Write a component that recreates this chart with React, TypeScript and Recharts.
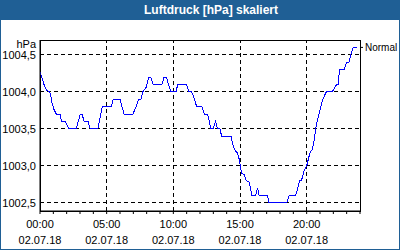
import React from "react";
import {
  LineChart,
  Line,
  XAxis,
  YAxis,
  ReferenceLine,
  ReferenceArea,
  Label,
} from "recharts";

const title = "Luftdruck [hPa] skaliert";
const unit = "hPa";
const seriesName = "Normal";
const dateLabel = "02.07.18";

// time in hours since 00:00, pressure in hPa
const hours = [
  0.0, 0.2, 0.35, 0.5, 0.7, 0.8, 0.9, 1.05, 1.22, 1.52, 1.6, 1.9, 2.17, 2.72,
  3.02, 3.14, 3.32, 3.6, 3.77, 4.34, 4.67, 5.36, 5.49, 6.0, 6.3, 6.97, 7.21,
  7.39, 7.58, 7.71, 7.96, 8.16, 8.31, 8.48, 9.15, 9.3, 9.48, 9.63, 9.83, 10.2,
  10.33, 11.0, 11.15, 11.38, 11.58, 11.75, 12.15, 12.32, 12.57, 12.7, 12.82,
  12.97, 13.17, 13.32, 13.5, 13.62, 14.32, 14.52, 14.65, 14.82, 14.97, 15.02,
  15.12, 15.32, 15.47, 15.7, 15.89, 16.17, 16.32, 16.44, 17.07, 17.16, 18.51,
  18.69, 19.18, 19.36, 19.46, 19.61, 19.81, 20.0, 20.18, 20.31, 20.43, 20.56,
  20.68, 20.81, 20.96, 21.13, 21.31, 21.48, 21.93, 22.1, 22.25, 22.36, 22.46,
  22.8, 22.99, 23.18, 23.3, 23.5, 23.8,
];
const pressure = [
  1004.27, 1004.16, 1004.07, 1004.02, 1004.0, 1003.96, 1003.85, 1003.76, 1003.7,
  1003.7, 1003.6, 1003.6, 1003.5, 1003.5, 1003.7, 1003.7, 1003.6, 1003.6,
  1003.5, 1003.5, 1003.8, 1003.8, 1003.9, 1003.9, 1003.7, 1003.7, 1003.8,
  1003.9, 1003.9, 1004.0, 1004.06, 1004.2, 1004.2, 1004.1, 1004.1, 1004.2,
  1004.2, 1004.1, 1004.0, 1004.0, 1004.1, 1004.1, 1004.0, 1004.0, 1003.9,
  1003.8, 1003.8, 1003.7, 1003.7, 1003.6, 1003.5, 1003.5, 1003.6, 1003.5,
  1003.5, 1003.4, 1003.4, 1003.25, 1003.2, 1003.17, 1003.07, 1003.0, 1002.9,
  1002.88, 1002.8, 1002.78, 1002.6, 1002.6, 1002.7, 1002.6, 1002.6, 1002.5,
  1002.5, 1002.6, 1002.6, 1002.72, 1002.8, 1002.8, 1002.94, 1003.0, 1003.13,
  1003.2, 1003.22, 1003.35, 1003.5, 1003.62, 1003.73, 1003.85, 1003.94, 1004.0,
  1004.0, 1004.06, 1004.1, 1004.1, 1004.3, 1004.3, 1004.4, 1004.4, 1004.5,
  1004.6, 1004.6,
];

const yTicks = [1002.5, 1003.0, 1003.5, 1004.0, 1004.5];
const xLabelTicks = [0, 5, 10, 15, 20];
const xHourTicks = [
  0, 1, 2, 3, 4, 5, 6, 7, 8, 9, 10, 11, 12, 13, 14, 15, 16, 17, 18, 19, 20, 21,
  22, 23, 24,
];
const xDomain = [0, 24];
const yDomain = [1002.39, 1004.7];

const data = hours.map((h, i) => ({ h, p: pressure[i] }));
const lastValue = pressure[pressure.length - 1];

const BLUE = "#1f5f95";
const FONT = "'Liberation Sans', Arial, sans-serif";

function HourTick(props: any) {
  const { x, y, payload } = props;
  if (!xLabelTicks.includes(payload.value)) return <g />;
  const hh = String(payload.value).padStart(2, "0") + ":00";
  return (
    <text x={x} y={y} textAnchor="middle" fill="#000" fontSize={11} fontFamily={FONT}>
      <tspan x={x} dy={12}>{hh}</tspan>
      <tspan x={x} dy={16}>{dateLabel}</tspan>
    </text>
  );
}

export default function App() {
  return (
    <div
      style={{
        position: "relative",
        width: 400,
        height: 250,
        boxSizing: "border-box",
        border: `1px solid ${BLUE}`,
        background: "#fff",
        fontFamily: FONT,
        overflow: "hidden",
      }}
    >
      <style>{"body{margin:0}"}</style>
      <div
        style={{
          position: "absolute",
          left: 0,
          top: 0,
          width: 398,
          height: 19,
          paddingLeft: 22,
          boxSizing: "border-box",
          background: BLUE,
          color: "#fff",
          fontWeight: "bold",
          fontSize: 12,
          lineHeight: "19px",
          textAlign: "center",
        }}
      >
        {title}
      </div>
      <div style={{ position: "absolute", left: -1, top: -1 }}>
        <LineChart
          width={400}
          height={250}
          data={data}
          margin={{ top: 40, right: 0, bottom: 0, left: 0 }}
        >
          <XAxis
            dataKey="h"
            type="number"
            domain={xDomain}
            ticks={xHourTicks}
            interval={0}
            height={39}
            tickSize={3}
            tickMargin={2}
            axisLine={{ stroke: "#000" }}
            tickLine={{ stroke: "#000" }}
            tick={<HourTick />}
            allowDataOverflow
          />
          <YAxis
            yAxisId="l"
            type="number"
            domain={yDomain}
            ticks={yTicks}
            interval={0}
            width={40}
            tickSize={2}
            tickMargin={2}
            tickLine={false}
            axisLine={{ stroke: "#000" }}
            tick={{ fill: "#000", fontSize: 11, fontFamily: FONT }}
            tickFormatter={(v: number) => v.toFixed(1).replace(".", ",")}
            allowDataOverflow
          >
            <Label
              value={unit}
              position="insideTopRight"
              offset={4}
              dy={-4}
              fill="#000"
              fontSize={11}
              fontFamily={FONT}
            />
          </YAxis>
          <YAxis
            yAxisId="r"
            orientation="right"
            type="number"
            domain={yDomain}
            ticks={[lastValue]}
            interval={0}
            width={40}
            tickSize={3}
            tickMargin={2}
            axisLine={false}
            tickLine={{ stroke: "#000" }}
            tick={{ fill: "#000", fontSize: 10, fontFamily: FONT, textAnchor: "start" }}
            tickFormatter={() => seriesName}
            allowDataOverflow
          />
          {yTicks.map((v) => (
            <ReferenceLine
              key={"y" + v}
              yAxisId="l"
              y={v}
              stroke="#000"
              strokeDasharray="4 3"
              shapeRendering="crispEdges"
            />
          ))}
          {xLabelTicks.slice(1).map((v) => (
            <ReferenceLine
              key={"x" + v}
              yAxisId="l"
              x={v}
              stroke="#000"
              strokeDasharray="4 3"
              shapeRendering="crispEdges"
            />
          ))}
          <ReferenceArea
            yAxisId="l"
            x1={xDomain[0]}
            x2={xDomain[1]}
            y1={yDomain[0]}
            y2={yDomain[1]}
            fill="none"
            stroke="#000"
            shapeRendering="crispEdges"
          />
          <Line
            yAxisId="l"
            type="linear"
            dataKey="p"
            stroke="#0000ff"
            strokeWidth={1}
            dot={false}
            activeDot={false}
            shapeRendering="crispEdges"
            isAnimationActive={false}
          />
          <Line
            yAxisId="r"
            type="linear"
            dataKey="p"
            stroke="none"
            dot={false}
            activeDot={false}
            legendType="none"
            isAnimationActive={false}
          />
        </LineChart>
      </div>
    </div>
  );
}
